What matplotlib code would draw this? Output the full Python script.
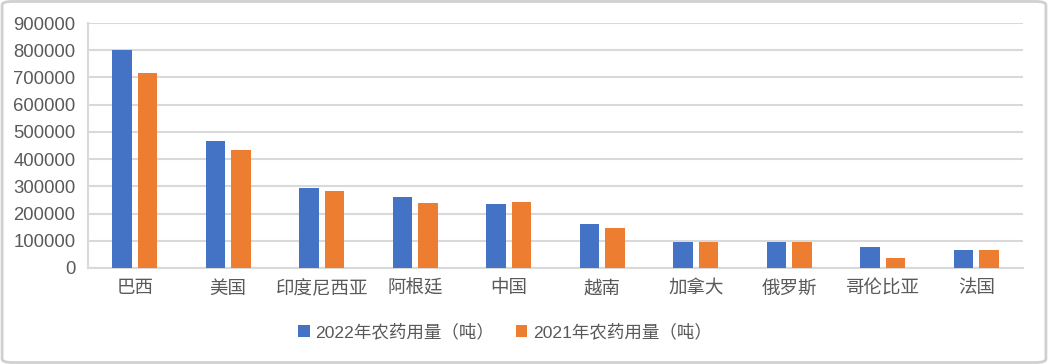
import matplotlib
matplotlib.use("Agg")
import matplotlib.pyplot as plt
import numpy as np
from matplotlib.patches import FancyBboxPatch

categories = ["巴西", "美国", "印度尼西亚", "阿根廷", "中国", "越南", "加拿大", "俄罗斯", "哥伦比亚", "法国"]
usage_2022 = [800000, 467000, 294000, 261000, 235000, 162000, 96000, 95000, 78000, 67000]
usage_2021 = [717000, 433000, 283000, 239000, 243000, 147000, 95000, 95000, 37000, 67000]
series_names = ["2022年农药用量（吨）", "2021年农药用量（吨）"]
yticks = [0, 100000, 200000, 300000, 400000, 500000, 600000, 700000, 800000, 900000]

plt.rcParams['font.family'] = ['Liberation Sans', 'Noto Sans CJK SC', 'DejaVu Sans']

fig = plt.figure(figsize=(10.48, 3.64), dpi=100)
ax = fig.add_axes([88/1048, 1 - 268/364, (1023-88)/1048, (268-23)/364])

x = np.arange(len(categories))
w = 0.21
off = 0.137
ax.bar(x - off, usage_2022, width=w, color="#4472C4", label=series_names[0], zorder=3)
ax.bar(x + off, usage_2021, width=w, color="#ED7D31", label=series_names[1], zorder=3)

ax.set_xlim(-0.5, len(categories) - 0.5)
ax.set_ylim(0, 900000)
ax.set_yticks(yticks)
ax.set_yticklabels([str(v) for v in yticks])
ax.set_xticks(x)
ax.set_xticklabels(categories)
ax.tick_params(axis='both', length=0, labelsize=13.3, colors="#595959")
ax.tick_params(axis='y', pad=9)
ax.tick_params(axis='x', pad=9)
ax.yaxis.grid(True, color="#d9d9d9", linewidth=1.5, zorder=0)
ax.set_axisbelow(True)
for s in ["top", "right"]:
    ax.spines[s].set_visible(False)
ax.spines["left"].set_color("#d9d9d9")
ax.spines["left"].set_linewidth(1.5)
ax.spines["bottom"].set_color("#d9d9d9")
ax.spines["bottom"].set_linewidth(1.5)

leg = fig.legend(loc="center", bbox_to_anchor=(505/1048, 1 - 332/364), ncol=2, frameon=False,
                 fontsize=12.6, handlelength=0.65, handleheight=0.65, handletextpad=0.35,
                 columnspacing=1.2, labelcolor="#595959")

border = FancyBboxPatch((0.002, 0.004), 0.996, 0.992, boxstyle="round,pad=0,rounding_size=0.01",
                        transform=fig.transFigure, fill=False, edgecolor="#d0d0d0", linewidth=2)
fig.patches.append(border)

fig.savefig("out.png", dpi=100)
